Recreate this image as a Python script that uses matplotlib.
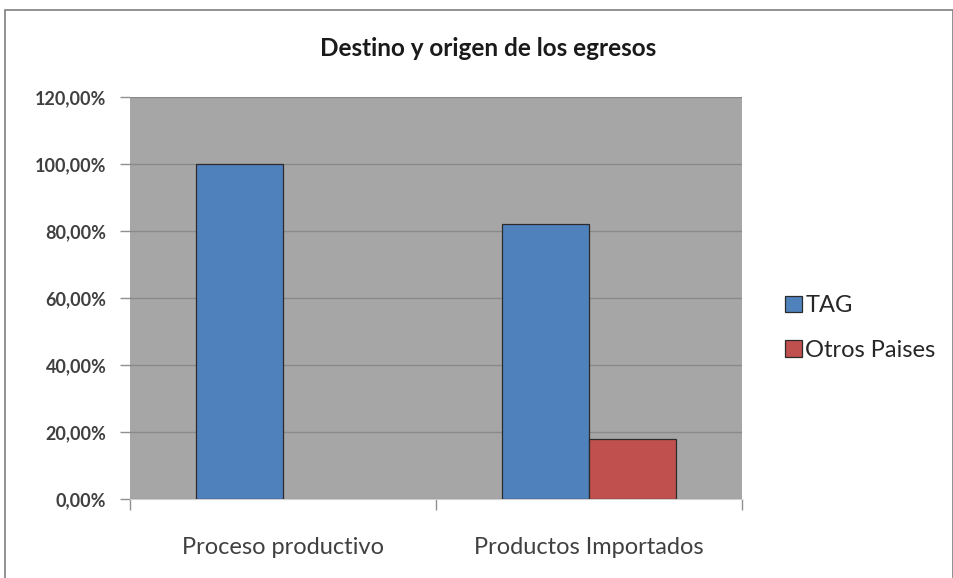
import numpy as np
import matplotlib.pyplot as plt
from matplotlib.patches import Rectangle, Patch
from matplotlib.ticker import FuncFormatter

categories = ["Proceso productivo", "Productos Importados"]
series_names = ["TAG", "Otros Paises"]
tag_values = [100.0, 82.0]
otros_values = [0.0, 18.0]
y_ticks = [0, 20, 40, 60, 80, 100, 120]

colors = ["#4f81bd", "#c0504d"]
edge = "#2b2b2b"
plt.rcParams['font.family'] = ['Lato', 'DejaVu Sans']

fig = plt.figure(figsize=(9.54, 5.78), dpi=100)
ax = fig.add_axes([130 / 954, 1 - 499 / 578, 612 / 954, 402 / 578])
ax.set_facecolor("#a6a6a6")

x = np.arange(len(categories))
w = 2 / 7
ax.bar(x - w / 2, tag_values, w, color=colors[0], edgecolor=edge,
       linewidth=0.9, zorder=3)
bars2 = ax.bar(x + w / 2, otros_values, w, color=colors[1], edgecolor=edge,
               linewidth=0.9, zorder=3)
for b, v in zip(bars2, otros_values):
    if v == 0:
        b.set_visible(False)  # no flat line for empty bar

ax.set_xlim(-0.5, 1.5)
ax.set_ylim(0, 120)
ax.set_yticks(y_ticks)
ax.yaxis.set_major_formatter(FuncFormatter(lambda v, p: f"{v:.2f}%".replace(".", ",")))
ax.grid(axis="y", color="#8a8a8a", linewidth=1.0, zorder=1)
ax.set_axisbelow(True)

ax.set_xticks(x)
ax.set_xticklabels(categories, fontsize=17, color="#404040")
ax.set_xticks([-0.5, 0.5, 1.5], minor=True)
ax.tick_params(axis="x", which="major", length=0, pad=27)
ax.tick_params(axis="x", which="minor", length=8, color="#909090", width=1)
ax.tick_params(axis="y", length=7, color="#909090", width=1, pad=10,
               labelsize=13, labelcolor="#404040")
for lbl in ax.get_yticklabels():
    lbl.set_fontweight("bold")

for s in ["top", "right", "left"]:
    ax.spines[s].set_visible(False)
ax.spines["bottom"].set_color("#d0d0d0")

fig.text(488 / 954, 1 - 49 / 578, "Destino y origen de los egresos",
         ha="center", va="center", fontsize=17.5, fontweight="bold", color="#1a1a1a")

handles = [Patch(facecolor=c, edgecolor=edge, linewidth=0.9) for c in colors]
leg = fig.legend(handles, series_names, loc="center left",
                 bbox_to_anchor=(764 / 954, 1 - 328 / 578),
                 frameon=False, fontsize=17, handlelength=0.7, handleheight=0.7,
                 handletextpad=0.15, labelspacing=1.0)
for t in leg.get_texts():
    t.set_color("#262626")

# outer chart border
fig.patches.append(Rectangle((5 / 954, -0.01), 948 / 954, 1 - 10 / 578 + 0.01,
                             transform=fig.transFigure, fill=False,
                             edgecolor="#7f7f7f", linewidth=1.2))

fig.savefig("out.png", dpi=100)
